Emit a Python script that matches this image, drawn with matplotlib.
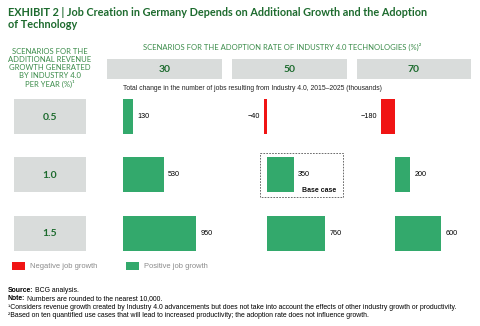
import matplotlib

matplotlib.use("Agg")
import matplotlib.pyplot as plt
from matplotlib.patches import Rectangle

# values (thousands of jobs)
adoption_rates = ["30", "50", "70"]
growth_rates = ["0.5", "1.0", "1.5"]
jobs_30 = [130, 530, 950]
jobs_50 = [-40, 350, 760]
jobs_70 = [-180, 200, 600]
columns = [jobs_30, jobs_50, jobs_70]

GREEN = "#33a96c"
RED = "#f01414"
GRAY_BOX = "#d9dcdb"
TITLE_GREEN = "#1d6b2e"
HEAD_GREEN = "#3b8c4a"
FONT = ["Liberation Sans", "DejaVu Sans"]
HEAD_FONT = ["Lato", "DejaVu Sans"]

W, H = 480, 326
PX_PER_K = 73 / 950          # horizontal scale of the bars
BASES = [123, 267, 395]      # zero line of each column (px)
ROW_TOP, ROW_STEP = 87.5, 58.3


def fig_rect(x0, y0, w, h):
    return [x0 / W, 1 - (y0 + h) / H, w / W, h / H]


fig = plt.figure(figsize=(W / 100, H / 100), dpi=100)
bg = fig.add_axes([0, 0, 1, 1])
bg.set_xlim(0, W)
bg.set_ylim(H, 0)
bg.axis("off")

bg.text(8, 13, "EXHIBIT 2 | Job Creation in Germany Depends on Additional Growth and the Adoption",
        fontsize=7.8, fontweight="bold", color=TITLE_GREEN, family=HEAD_FONT, va="center")
bg.text(8, 25, "of Technology", fontsize=7.8, fontweight="bold", color=TITLE_GREEN,
        family=HEAD_FONT, va="center")

left_head = ["SCENARIOS FOR THE", "ADDITIONAL REVENUE", "GROWTH GENERATED",
             "BY INDUSTRY 4.0", "PER YEAR (%)\u00b9"]
for i, line in enumerate(left_head):
    bg.text(50, 52 + i * 8, line, fontsize=5.5, color=HEAD_GREEN, family=HEAD_FONT,
            ha="center", va="center")

bg.text(143, 47, "SCENARIOS FOR THE ADOPTION RATE OF INDUSTRY 4.0 TECHNOLOGIES (%)\u00b2",
        fontsize=5.5, color=HEAD_GREEN, family=HEAD_FONT, va="center")

col_boxes = [(107, 222), (232, 347), (357, 471)]
for (x0, x1), lab in zip(col_boxes, adoption_rates):
    bg.add_patch(Rectangle((x0, 59), x1 - x0, 20, color=GRAY_BOX, lw=0))
    bg.text((x0 + x1) / 2, 69.5, lab, fontsize=7.5, color=TITLE_GREEN, family=HEAD_FONT,
            fontweight="bold", ha="center", va="center")

bg.text(123, 88, "Total change in the number of jobs resulting from Industry 4.0, 2015\u20132025 (thousands)",
        fontsize=4.9, color="#222222", family=FONT, va="center")

for i, lab in enumerate(growth_rates):
    yc = ROW_TOP + (i + 0.5) * ROW_STEP
    bg.add_patch(Rectangle((14, yc - 17.5), 72, 35, color=GRAY_BOX, lw=0))
    bg.text(50, yc + 0.5, lab, fontsize=7.5, color=TITLE_GREEN, family=HEAD_FONT,
            fontweight="bold", ha="center", va="center")

# base case frame
bg.add_patch(Rectangle((260, 153), 83, 44, fill=False, ec="#555555", lw=0.6, ls=(0, (2, 1.5))))
bg.text(302, 190, "Base case", fontsize=5, fontweight="bold", color="#111111",
        family=FONT, va="center")

# bars: one axes per adoption column, sharing the same scale
for base, values in zip(BASES, columns):
    left_px, right_px = 40, 80
    ax = fig.add_axes(fig_rect(base - left_px, ROW_TOP, left_px + right_px, 3 * ROW_STEP))
    ax.set_xlim(-left_px / PX_PER_K, right_px / PX_PER_K)
    ax.set_ylim(2.5, -0.5)
    ax.axis("off")
    colors = [GREEN if v >= 0 else RED for v in values]
    ax.barh(range(len(values)), values, height=0.6, color=colors, lw=0)
    for i, v in enumerate(values):
        if v >= 0:
            ax.annotate(f"{v}", (v, i), xytext=(3, 0), textcoords="offset points",
                        fontsize=5.2, family=FONT, va="center", ha="left", annotation_clip=False)
        else:
            ax.annotate(f"\u2212{abs(v)}", (v, i), xytext=(-3, 0), textcoords="offset points",
                        fontsize=5.2, family=FONT, va="center", ha="right", annotation_clip=False)

# legend
bg.add_patch(Rectangle((12, 262), 13, 8, color=RED, lw=0))
bg.text(30, 266, "Negative job growth", fontsize=5.4, color="#8a8a8a", family=FONT, va="center")
bg.add_patch(Rectangle((126, 262), 13, 8, color=GREEN, lw=0))
bg.text(144, 266, "Positive job growth", fontsize=5.4, color="#8a8a8a", family=FONT, va="center")

# footnotes
notes = [
    ("Source:", "BCG analysis."),
    ("Note:", "Numbers are rounded to the nearest 10,000."),
    ("", "\u00b9Considers revenue growth created by Industry 4.0 advancements but does not take into account the effects of other industry growth or productivity."),
    ("", "\u00b2Based on ten quantified use cases that will lead to increased productivity; the adoption rate does not influence growth."),
]
fig.canvas.draw()
for i, (bold, rest) in enumerate(notes):
    y = 292 + i * 8.3
    if bold:
        t = bg.text(8, y, bold, fontsize=4.95, fontweight="bold", family=FONT, va="baseline")
        bb = t.get_window_extent(renderer=fig.canvas.get_renderer())
        bg.text(8 + bb.width + 1.5, y, rest, fontsize=4.95, family=FONT, va="baseline")
    else:
        bg.text(8, y, rest, fontsize=4.95, family=FONT, va="baseline")

fig.savefig("out.png", dpi=100)
